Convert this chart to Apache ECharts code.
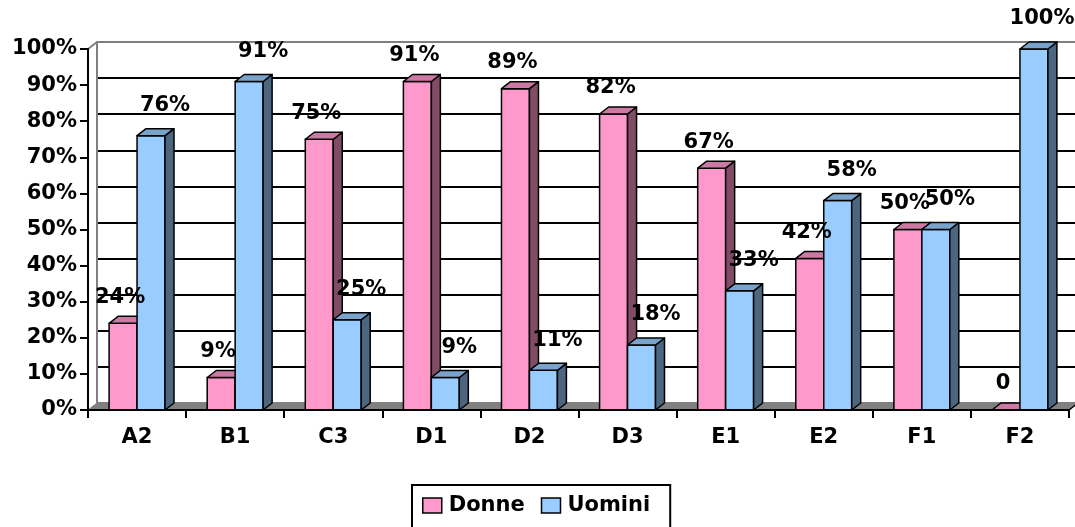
<!DOCTYPE html>
<html>
<head>
<meta charset="utf-8">
<script src="https://cdn.jsdelivr.net/npm/echarts@6/dist/echarts.min.js"></script>
<style>
html, body { margin: 0; padding: 0; background: #fff; }
#chart { width: 1075px; height: 527px; }
</style>
</head>
<body>
<div id="chart"></div>
<script>
var categories = ['A2', 'B1', 'C3', 'D1', 'D2', 'D3', 'E1', 'E2', 'F1', 'F2'];
var donne = [24, 9, 75, 91, 89, 82, 67, 42, 50, 0];
var uomini = [76, 91, 25, 9, 11, 18, 33, 58, 50, 100];
var seriesNames = ['Donne', 'Uomini'];

var DX = 9, DY = -7;
var FONT = 'DejaVu Sans';
var pink = { front: '#FF99CC', top: '#CC7AA3', side: '#804C66' };
var blue = { front: '#99CCFF', top: '#7AA3CC', side: '#4C667F' };
// label offset from the bar's front-top centre, per series
var labelShift = [[-3, -26], [14, -30]];

function toPairs(arr) {
	return arr.map(function (v, i) { return [i, v]; });
}

// bar geometry shared by the bar and label series
function barBox(api, slot) {
	var idx = api.value(0), val = api.value(1);
	var base = api.coord([idx, 0]);
	var tp = api.coord([idx, val]);
	var w = api.size([1, 0])[0] * 0.285;
	var x0 = slot === 0 ? base[0] - w : base[0];
	return { x0: x0, x1: x0 + w, y0: base[1], y1: tp[1], val: val };
}

function barRenderer(slot, c) {
	return function (params, api) {
		var b = barBox(api, slot);
		var st = { stroke: '#000', lineWidth: 1.5, lineJoin: 'round' };
		return {
			type: 'group',
			children: [
				{ type: 'polygon', shape: { points: [[b.x0, b.y1], [b.x1, b.y1], [b.x1, b.y0], [b.x0, b.y0]] },
					style: Object.assign({ fill: c.front }, st) },
				{ type: 'polygon', shape: { points: [[b.x1, b.y1], [b.x1 + DX, b.y1 + DY], [b.x1 + DX, b.y0 + DY], [b.x1, b.y0]] },
					style: Object.assign({ fill: c.side }, st) },
				{ type: 'polygon', shape: { points: [[b.x0, b.y1], [b.x0 + DX, b.y1 + DY], [b.x1 + DX, b.y1 + DY], [b.x1, b.y1]] },
					style: Object.assign({ fill: c.top }, st) }
			]
		};
	};
}

function labelRenderer(slot) {
	return function (params, api) {
		var b = barBox(api, slot);
		var cx = Math.min((b.x0 + b.x1) / 2 + labelShift[slot][0], api.getWidth() - 33);
		return {
			type: 'text',
			style: {
				text: b.val === 0 ? '0' : b.val + '%',
				x: cx,
				y: b.y1 + labelShift[slot][1],
				align: 'center',
				verticalAlign: 'middle',
				font: 'bold 21px "' + FONT + '"',
				fill: '#000'
			}
		};
	};
}

function floorRenderer(params, api) {
	var cs = params.coordSys;
	var x = cs.x, y = cs.y + cs.height, w = cs.width;
	return {
		type: 'group',
		children: [
			{ type: 'polygon', shape: { points: [[x, y], [x + w, y], [x + w + DX, y + DY], [x + DX, y + DY]] },
				style: { fill: '#808080', stroke: '#808080', lineWidth: 1 } },
			{ type: 'line', shape: { x1: x + w, y1: y, x2: x + w + DX, y2: y + DY },
				style: { stroke: '#000', lineWidth: 1.5 } },
			{ type: 'line', shape: { x1: x, y1: cs.y, x2: x + DX, y2: cs.y + DY },
				style: { stroke: '#808080', lineWidth: 2 } }
		]
	};
}

var gridColors = ['#808080', '#000', '#000', '#000', '#000', '#000', '#000', '#000', '#000', '#000', '#808080'];

var chart = echarts.init(document.getElementById('chart'));
chart.setOption({
	animation: false,
	textStyle: { fontFamily: FONT },
	grid: [
		{ left: 88, right: 6, top: 49, bottom: 117 },
		{ left: 97, right: 0, top: 42, bottom: 124 }
	],
	xAxis: [
		{
			type: 'category', gridIndex: 0, data: categories, z: 10,
			axisLine: { lineStyle: { color: '#000', width: 2 } },
			axisTick: { show: true, length: 8, interval: 0, lineStyle: { color: '#000', width: 2 } },
			axisLabel: { margin: 17, color: '#000', fontSize: 21, fontWeight: 'bold', fontFamily: FONT, interval: 0 }
		},
		{ type: 'category', gridIndex: 1, data: categories, show: false }
	],
	yAxis: [
		{
			type: 'value', gridIndex: 0, min: 0, max: 100, interval: 10, z: 10,
			axisLine: { show: true, lineStyle: { color: '#000', width: 2 } },
			axisTick: { show: true, length: 8, lineStyle: { color: '#000', width: 2 } },
			splitLine: { show: false },
			axisLabel: { formatter: '{value}%', margin: 11, color: '#000', fontSize: 21, fontWeight: 'bold', fontFamily: FONT }
		},
		{
			type: 'value', gridIndex: 1, min: 0, max: 100, interval: 10,
			axisLine: { show: true, lineStyle: { color: '#808080', width: 2 } },
			axisTick: { show: false },
			axisLabel: { show: false },
			splitLine: { show: true, lineStyle: { color: gridColors, width: 2 } }
		}
	],
	legend: {
		data: [
			{ name: seriesNames[0], itemStyle: { color: pink.front, borderColor: '#000', borderWidth: 1.5 } },
			{ name: seriesNames[1], itemStyle: { color: blue.front, borderColor: '#000', borderWidth: 1.5 } }
		],
		left: 412, top: 485,
		padding: [10, 20, 12, 10],
		borderColor: '#000', borderWidth: 2,
		icon: 'rect', itemWidth: 19, itemHeight: 15, itemGap: 16,
		textStyle: { color: '#000', fontSize: 21, fontWeight: 'bold', fontFamily: FONT, padding: [0, 0, 0, 2] }
	},
	series: [
		{ type: 'custom', name: 'floor', xAxisIndex: 0, yAxisIndex: 0, z: 1, silent: true,
			renderItem: floorRenderer, data: [[0, 0]] },
		{ type: 'custom', name: seriesNames[0], xAxisIndex: 0, yAxisIndex: 0, z: 3,
			itemStyle: { color: pink.front }, renderItem: barRenderer(0, pink), data: toPairs(donne) },
		{ type: 'custom', name: seriesNames[1], xAxisIndex: 0, yAxisIndex: 0, z: 4,
			itemStyle: { color: blue.front }, renderItem: barRenderer(1, blue), data: toPairs(uomini) },
		{ type: 'custom', name: seriesNames[0], xAxisIndex: 0, yAxisIndex: 0, z: 12,
			renderItem: labelRenderer(0), data: toPairs(donne) },
		{ type: 'custom', name: seriesNames[1], xAxisIndex: 0, yAxisIndex: 0, z: 12,
			renderItem: labelRenderer(1), data: toPairs(uomini) }
	]
});
</script>
</body>
</html>
